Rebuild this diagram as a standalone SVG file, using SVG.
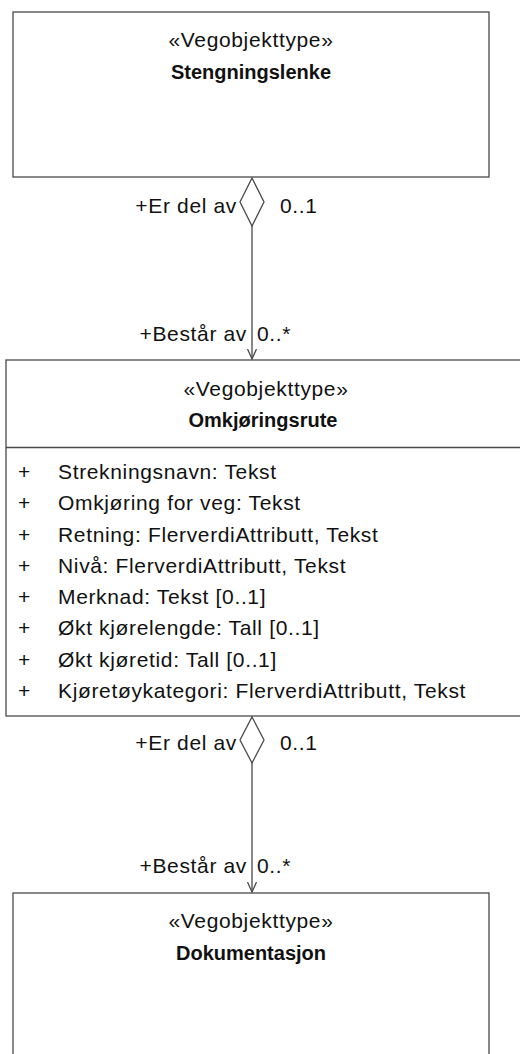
<svg xmlns="http://www.w3.org/2000/svg" width="520" height="1054" viewBox="0 0 520 1054">
<defs>
<style>
.box{fill:#fff;stroke:#4a4a4a;stroke-width:1.3}
.t{font-family:"Liberation Sans",Arial,sans-serif;font-size:21px;letter-spacing:0.65px;fill:#111}
.b{font-weight:bold;font-size:20px;letter-spacing:0}
.c{text-anchor:middle}
.e{text-anchor:end}
.ln{stroke:#4a4a4a;stroke-width:1.3;fill:none}
.dia{fill:#fff;stroke:#4a4a4a;stroke-width:1.3}
</style>
<marker id="arr" markerWidth="12" markerHeight="16" refX="10" refY="6" orient="auto" markerUnits="userSpaceOnUse">
<path d="M0,1.5 L10,6 L0,10.5" fill="none" stroke="#4a4a4a" stroke-width="1.3"/>
</marker>
</defs>
<rect width="520" height="1054" fill="#fff"/>
<g id="connectors">
<g id="c1">
<line class="ln" x1="252" y1="225" x2="252" y2="359" marker-end="url(#arr)"/>
<polygon class="dia" points="252,178 264,202 252,226 240,202"/>
<text class="t e" x="237" y="213">+Er del av</text>
<text class="t" x="280" y="213">0..1</text>
<text class="t e" x="247" y="341">+Består av</text>
<text class="t" x="257" y="341">0..*</text>
</g>
<g id="c2">
<line class="ln" x1="252" y1="763" x2="252" y2="892" marker-end="url(#arr)"/>
<polygon class="dia" points="252,717 264,740 252,763 240,740"/>
<text class="t e" x="237" y="750">+Er del av</text>
<text class="t" x="280" y="750">0..1</text>
<text class="t e" x="247" y="873">+Består av</text>
<text class="t" x="257" y="873">0..*</text>
</g>
</g>
<g id="stengningslenke">
<rect class="box" x="13" y="12" width="476" height="165"/>
<text class="t c" x="251" y="47">«Vegobjekttype»</text>
<text class="t c b" x="251" y="79">Stengningslenke</text>
</g>
<g id="omkjoringsrute">
<rect class="box" x="6" y="360" width="520" height="356"/>
<line class="ln" x1="6" y1="447.5" x2="526" y2="447.5"/>
<text class="t c" x="266" y="396">«Vegobjekttype»</text>
<text class="t c b" x="263" y="427">Omkjøringsrute</text>
<text class="t" x="18" y="479">+</text><text class="t" x="58" y="479">Strekningsnavn: Tekst</text>
<text class="t" x="18" y="510.3">+</text><text class="t" x="58" y="510.3">Omkjøring for veg: Tekst</text>
<text class="t" x="18" y="541.5">+</text><text class="t" x="58" y="541.5">Retning: FlerverdiAttributt, Tekst</text>
<text class="t" x="18" y="572.8">+</text><text class="t" x="58" y="572.8">Nivå: FlerverdiAttributt, Tekst</text>
<text class="t" x="18" y="604">+</text><text class="t" x="58" y="604">Merknad: Tekst [0..1]</text>
<text class="t" x="18" y="635.3">+</text><text class="t" x="58" y="635.3">Økt kjørelengde: Tall [0..1]</text>
<text class="t" x="18" y="666.5">+</text><text class="t" x="58" y="666.5">Økt kjøretid: Tall [0..1]</text>
<text class="t" x="18" y="697.8">+</text><text class="t" x="58" y="697.8">Kjøretøykategori: FlerverdiAttributt, Tekst</text>
</g>
<g id="dokumentasjon">
<rect class="box" x="13" y="893" width="476" height="170"/>
<text class="t c" x="251" y="928">«Vegobjekttype»</text>
<text class="t c b" x="251" y="960">Dokumentasjon</text>
</g>
</svg>
